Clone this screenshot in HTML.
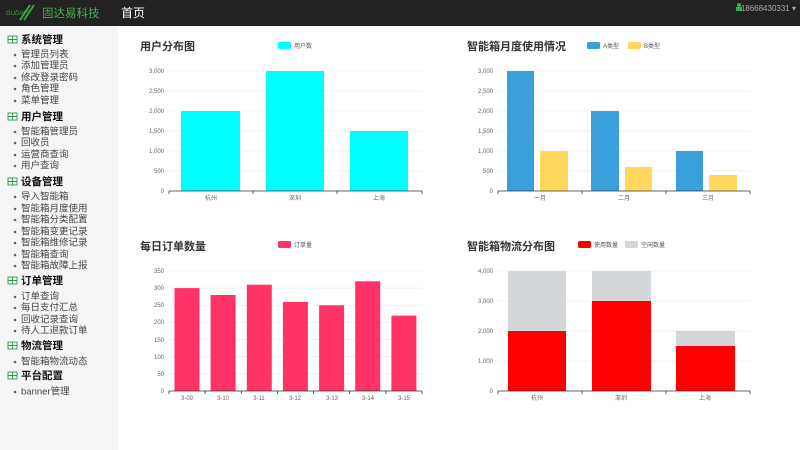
<!DOCTYPE html>
<html><head><meta charset="utf-8"><style>
html,body{margin:0;padding:0;width:800px;height:450px;overflow:hidden;background:#fff}
svg{display:block;font-family:"Liberation Sans","Noto Sans CJK SC",sans-serif}
.ax{font-size:6px;fill:#666}
.sb{font-size:9.5px;fill:#444}
.sh{font-size:10.5px;font-weight:bold;fill:#111}
.t{font-size:11px;font-weight:bold;fill:#333}
.lg{font-size:6px;fill:#555}
.g{stroke:#eee;stroke-width:0.8}
</style></head><body>
<svg width="800" height="450" viewBox="0 0 800 450">
<rect x="0" y="0" width="800" height="26" fill="#222"/>
<rect x="0" y="26" width="118" height="424" fill="#f5f5f5"/>
<!-- logo -->
<g stroke="#3fa33f" stroke-width="2"><line x1="20" y1="20" x2="30" y2="5"/><line x1="24" y1="20" x2="34" y2="5"/></g>
<text x="6" y="15" font-size="6" fill="#3fa33f" font-style="italic">GUDAYI</text>
<text x="42" y="17" font-size="11.5" fill="#4fae4f">固达易科技</text>
<text x="121" y="17" font-size="12" fill="#fff">首页</text>
<circle cx="739" cy="5" r="2" fill="#2bb24c"/><rect x="736" y="7" width="6" height="4" fill="#2bb24c"/>
<text x="796" y="11" font-size="8" fill="#aaa" text-anchor="end">18668430331 ▾</text>
<!-- sidebar -->
<g>
<g fill="none" stroke="#2a9d4a" stroke-width="0.9">
<rect x="8" y="36" width="9" height="7"/><rect x="8" y="113" width="9" height="7"/><rect x="8" y="178" width="9" height="7"/><rect x="8" y="277" width="9" height="7"/><rect x="8" y="342" width="9" height="7"/><rect x="8" y="372" width="9" height="7"/>
<path d="M8 39.5H17M12.5 36V43M8 116.5H17M12.5 113V120M8 181.5H17M12.5 178V185M8 280.5H17M12.5 277V284M8 345.5H17M12.5 342V349M8 375.5H17M12.5 372V379"/>
</g>
<g class="sh" dominant-baseline="central">
<text x="21" y="40">系统管理</text><text x="21" y="117">用户管理</text><text x="21" y="182">设备管理</text><text x="21" y="281">订单管理</text><text x="21" y="346">物流管理</text><text x="21" y="376">平台配置</text>
</g>
<g class="sb" dominant-baseline="central">
<text x="21" y="55">管理员列表</text><text x="21" y="66">添加管理员</text><text x="21" y="78">修改登录密码</text><text x="21" y="89">角色管理</text><text x="21" y="101">菜单管理</text>
<text x="21" y="132">智能箱管理员</text><text x="21" y="143">回收员</text><text x="21" y="155">运营商查询</text><text x="21" y="166">用户查询</text>
<text x="21" y="197">导入智能箱</text><text x="21" y="209">智能箱月度使用</text><text x="21" y="220">智能箱分类配置</text><text x="21" y="232">智能箱变更记录</text><text x="21" y="243">智能箱维修记录</text><text x="21" y="255">智能箱查询</text><text x="21" y="266">智能箱故障上报</text>
<text x="21" y="297">订单查询</text><text x="21" y="308">每日支付汇总</text><text x="21" y="320">回收记录查询</text><text x="21" y="331">待人工退款订单</text>
<text x="21" y="362">智能箱物流动态</text><text x="21" y="392">banner管理</text>
</g>
<g fill="#666">
<circle cx="15" cy="55" r="1.3"/><circle cx="15" cy="66" r="1.3"/><circle cx="15" cy="78" r="1.3"/><circle cx="15" cy="89" r="1.3"/><circle cx="15" cy="101" r="1.3"/>
<circle cx="15" cy="132" r="1.3"/><circle cx="15" cy="143" r="1.3"/><circle cx="15" cy="155" r="1.3"/><circle cx="15" cy="166" r="1.3"/>
<circle cx="15" cy="197" r="1.3"/><circle cx="15" cy="209" r="1.3"/><circle cx="15" cy="220" r="1.3"/><circle cx="15" cy="232" r="1.3"/><circle cx="15" cy="243" r="1.3"/><circle cx="15" cy="255" r="1.3"/><circle cx="15" cy="266" r="1.3"/>
<circle cx="15" cy="297" r="1.3"/><circle cx="15" cy="308" r="1.3"/><circle cx="15" cy="320" r="1.3"/><circle cx="15" cy="331" r="1.3"/>
<circle cx="15" cy="362" r="1.3"/><circle cx="15" cy="392" r="1.3"/>
</g>
</g>

<!-- Chart 1 -->
<text x="140" y="50" class="t">用户分布图</text>
<rect x="278" y="42" width="13" height="7" rx="1.5" fill="#00ffff"/><text x="294" y="48" class="lg">用户数</text>
<g class="g"><line x1="169" y1="71" x2="422" y2="71"/><line x1="169" y1="91" x2="422" y2="91"/><line x1="169" y1="111" x2="422" y2="111"/><line x1="169" y1="131" x2="422" y2="131"/><line x1="169" y1="151" x2="422" y2="151"/><line x1="169" y1="171" x2="422" y2="171"/></g>
<g class="ax" text-anchor="end"><text x="164" y="73">3,000</text><text x="164" y="93">2,500</text><text x="164" y="113">2,000</text><text x="164" y="133">1,500</text><text x="164" y="153">1,000</text><text x="164" y="173">500</text><text x="164" y="193">0</text></g>
<g fill="#00ffff"><rect x="181" y="111" width="59" height="80"/><rect x="266" y="71" width="58" height="120"/><rect x="350" y="131" width="58" height="60"/></g>
<path d="M169 191H422M169 191v3M253 191v3M337 191v3M422 191v3" stroke="#333" stroke-width="0.8" fill="none"/>
<g class="ax" text-anchor="middle"><text x="211" y="200">杭州</text><text x="295" y="200">深圳</text><text x="379" y="200">上海</text></g>

<!-- Chart 2 -->
<text x="467" y="50" class="t">智能箱月度使用情况</text>
<rect x="587" y="42" width="13" height="7" rx="1.5" fill="#3aa0db"/><text x="603" y="48" class="lg">A类型</text>
<rect x="628" y="42" width="13" height="7" rx="1.5" fill="#ffd85c"/><text x="644" y="48" class="lg">B类型</text>
<g class="g"><line x1="498" y1="71" x2="750" y2="71"/><line x1="498" y1="91" x2="750" y2="91"/><line x1="498" y1="111" x2="750" y2="111"/><line x1="498" y1="131" x2="750" y2="131"/><line x1="498" y1="151" x2="750" y2="151"/><line x1="498" y1="171" x2="750" y2="171"/></g>
<g class="ax" text-anchor="end"><text x="493" y="73">3,000</text><text x="493" y="93">2,500</text><text x="493" y="113">2,000</text><text x="493" y="133">1,500</text><text x="493" y="153">1,000</text><text x="493" y="173">500</text><text x="493" y="193">0</text></g>
<g fill="#3aa0db"><rect x="507" y="71" width="27" height="120"/><rect x="591" y="111" width="28" height="80"/><rect x="676" y="151" width="27" height="40"/></g>
<g fill="#ffd85c"><rect x="540" y="151" width="28" height="40"/><rect x="625" y="167" width="27" height="24"/><rect x="709" y="175" width="28" height="16"/></g>
<path d="M498 191H750M498 191v3M582 191v3M666 191v3M750 191v3" stroke="#333" stroke-width="0.8" fill="none"/>
<g class="ax" text-anchor="middle"><text x="540" y="200">一月</text><text x="624" y="200">二月</text><text x="708" y="200">三月</text></g>

<!-- Chart 3 -->
<text x="140" y="250" class="t">每日订单数量</text>
<rect x="278" y="241" width="13" height="7" rx="1.5" fill="#ff3366"/><text x="294" y="247" class="lg">订单量</text>
<g class="g"><line x1="169" y1="271" x2="422" y2="271"/><line x1="169" y1="288.1" x2="422" y2="288.1"/><line x1="169" y1="305.3" x2="422" y2="305.3"/><line x1="169" y1="322.4" x2="422" y2="322.4"/><line x1="169" y1="339.6" x2="422" y2="339.6"/><line x1="169" y1="356.7" x2="422" y2="356.7"/><line x1="169" y1="373.9" x2="422" y2="373.9"/></g>
<g class="ax" text-anchor="end"><text x="164" y="273">350</text><text x="164" y="290">300</text><text x="164" y="307">250</text><text x="164" y="324">200</text><text x="164" y="342">150</text><text x="164" y="359">100</text><text x="164" y="376">50</text><text x="164" y="393">0</text></g>
<g fill="#ff3366"><rect x="174.5" y="288.1" width="25" height="102.9"/><rect x="210.6" y="295" width="25" height="96"/><rect x="246.8" y="284.7" width="25" height="106.3"/><rect x="282.9" y="301.9" width="25" height="89.1"/><rect x="319.1" y="305.3" width="25" height="85.7"/><rect x="355.2" y="281.3" width="25" height="109.7"/><rect x="391.4" y="315.6" width="25" height="75.4"/></g>
<path d="M169 391H422M169 391v3M205.1 391v3M241.3 391v3M277.4 391v3M313.6 391v3M349.7 391v3M385.9 391v3M422 391v3" stroke="#333" stroke-width="0.8" fill="none"/>
<g class="ax" text-anchor="middle"><text x="187" y="400">3-09</text><text x="223" y="400">3-10</text><text x="259" y="400">3-11</text><text x="295" y="400">3-12</text><text x="332" y="400">3-13</text><text x="368" y="400">3-14</text><text x="404" y="400">3-15</text></g>

<!-- Chart 4 -->
<text x="467" y="250" class="t">智能箱物流分布图</text>
<rect x="578" y="241" width="13" height="7" rx="1.5" fill="#ff0000"/><text x="594" y="247" class="lg">使用数量</text>
<rect x="625" y="241" width="13" height="7" rx="1.5" fill="#d3d7d9"/><text x="641" y="247" class="lg">空闲数量</text>
<g class="g"><line x1="498" y1="271" x2="750" y2="271"/><line x1="498" y1="301" x2="750" y2="301"/><line x1="498" y1="331" x2="750" y2="331"/><line x1="498" y1="361" x2="750" y2="361"/></g>
<g class="ax" text-anchor="end"><text x="493" y="273">4,000</text><text x="493" y="303">3,000</text><text x="493" y="333">2,000</text><text x="493" y="363">1,000</text><text x="493" y="393">0</text></g>
<g fill="#d3d7d9"><rect x="508" y="271" width="58" height="60"/><rect x="592" y="271" width="59" height="30"/><rect x="676" y="331" width="59" height="15"/></g>
<g fill="#ff0000"><rect x="508" y="331" width="58" height="60"/><rect x="592" y="301" width="59" height="90"/><rect x="676" y="346" width="59" height="45"/></g>
<path d="M498 391H750M498 391v3M582 391v3M666 391v3M750 391v3" stroke="#333" stroke-width="0.8" fill="none"/>
<g class="ax" text-anchor="middle"><text x="537" y="400">杭州</text><text x="621" y="400">深圳</text><text x="705" y="400">上海</text></g>
</svg>
</body></html>
